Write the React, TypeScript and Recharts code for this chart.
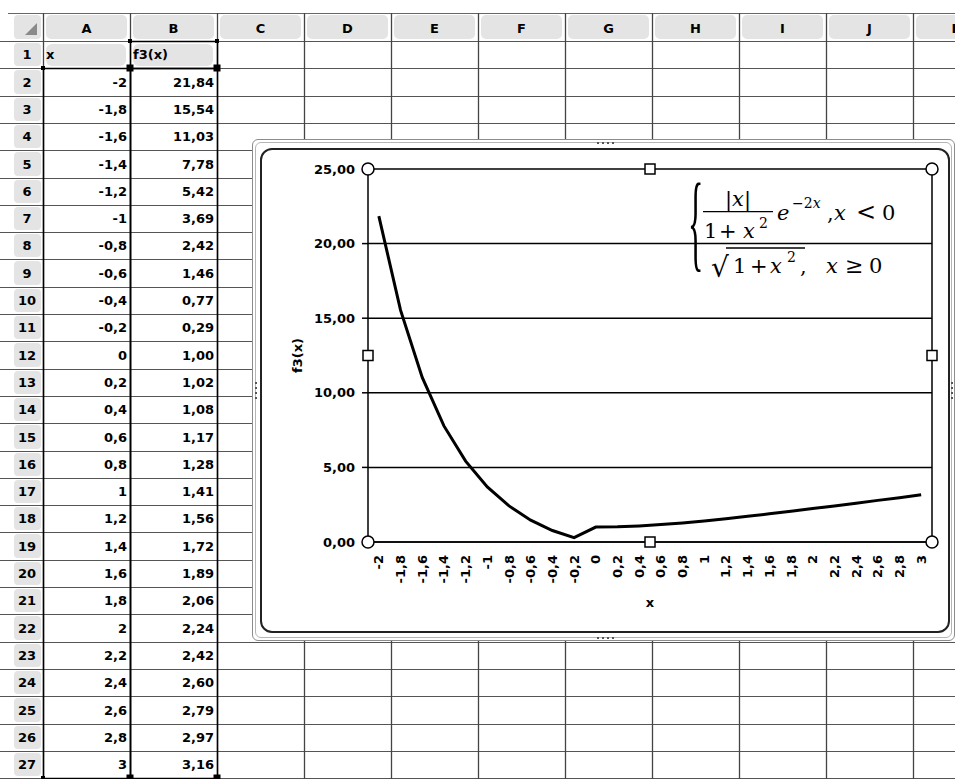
import React from 'react';
import { LineChart, Line, XAxis, YAxis, CartesianGrid, Label } from 'recharts';

// ---- data ----
const xValues = [-2, -1.8, -1.6, -1.4, -1.2, -1, -0.8, -0.6, -0.4, -0.2, 0, 0.2, 0.4, 0.6, 0.8, 1, 1.2, 1.4, 1.6, 1.8, 2, 2.2, 2.4, 2.6, 2.8, 3];
const f3Values = [21.84, 15.54, 11.03, 7.78, 5.42, 3.69, 2.42, 1.46, 0.77, 0.29, 1.0, 1.02, 1.08, 1.17, 1.28, 1.41, 1.56, 1.72, 1.89, 2.06, 2.24, 2.42, 2.6, 2.79, 2.97, 3.16];
const yTicks = [0, 5, 10, 15, 20, 25];
const columnLetters = ['A', 'B', 'C', 'D', 'E', 'F', 'G', 'H', 'I', 'J', 'K'];
const headerX = 'x';
const headerY = 'f3(x)';
const xAxisTitle = 'x';
const yAxisTitle = 'f3(x)';

const fmtX = (v: number) => String(v).replace('.', ',');
const fmtY = (v: number) => v.toFixed(2).replace('.', ',');

const chartData = xValues.map((x, i) => ({ xLabel: fmtX(x), f3: f3Values[i] }));

// ---- layout ----
const FONT = "'DejaVu Sans', sans-serif";
const COL0 = 43;
const COL_W = 87;
const HEAD_TOP = 13;
const HEAD_BOTTOM = 41;
const ROW_H = 27.3;
const NROWS = 27;
const rowTop = (r: number) => Math.round(HEAD_BOTTOM + (r - 1) * ROW_H);
const colLeft = (c: number) => COL0 + c * COL_W;

const CH_LEFT = 261;
const CH_TOP = 149;
const CH_W = 688;
const CH_H = 483;
const M = { top: 20, right: 17, bottom: 20, left: 47 };
const Y_AXIS_W = 60;
const X_AXIS_H = 70;
const PLOT_L = CH_LEFT + M.left + Y_AXIS_W;
const PLOT_T = CH_TOP + M.top;
const PLOT_R = CH_LEFT + CH_W - M.right;
const PLOT_B = CH_TOP + CH_H - M.bottom - X_AXIS_H;

const XTick = (props: any) => {
  const { x, y, payload } = props;
  return (
    <g transform={`translate(${x},${y})`}>
      <text transform="rotate(-90)" x={-5} y={0} textAnchor="end" dominantBaseline="central"
        fontFamily={FONT} fontWeight="bold" fontSize={13} fill="#000">{payload.value}</text>
    </g>
  );
};

const Sheet = () => {
  const rows = Array.from({ length: NROWS }, (_, i) => i + 1);
  const els: React.ReactNode[] = [];
  els.push(<rect key="corner" x={14} y={15} width={27} height={24} rx={4} fill="#e4e4e4" />);
  els.push(<polygon key="tri" points="37,23 37,35 25,35" fill="#8a8a8a" />);
  columnLetters.forEach((c, i) => {
    const l = colLeft(i);
    els.push(<rect key={'hp' + c} x={l + 3} y={15} width={COL_W - 6} height={24} rx={5} fill="#e4e4e4" />);
    els.push(<text key={'ht' + c} x={l + COL_W / 2} y={28} textAnchor="middle" dominantBaseline="central"
      fontFamily={FONT} fontWeight="bold" fontSize={13} fill="#000">{c}</text>);
  });
  rows.forEach((r) => {
    const t = rowTop(r);
    const b = rowTop(r + 1);
    els.push(<rect key={'rp' + r} x={14} y={t + 2} width={27} height={b - t - 4} rx={4} fill="#e4e4e4" />);
    els.push(<text key={'rt' + r} x={27} y={(t + b) / 2} textAnchor="middle" dominantBaseline="central"
      fontFamily={FONT} fontWeight="bold" fontSize={13} fill="#000">{r}</text>);
  });
  els.push(<rect key="a1p" x={colLeft(0) + 3} y={rowTop(1) + 3} width={COL_W - 7} height={rowTop(2) - rowTop(1) - 5} rx={6} fill="#e4e4e4" />);
  els.push(<rect key="b1p" x={colLeft(1) + 3} y={rowTop(1) + 3} width={COL_W - 7} height={rowTop(2) - rowTop(1) - 5} rx={6} fill="#e4e4e4" />);
  els.push(<text key="a1" x={colLeft(0) + 3} y={(rowTop(1) + rowTop(2)) / 2} dominantBaseline="central"
    fontFamily={FONT} fontWeight="bold" fontSize={13} fill="#000">{headerX}</text>);
  els.push(<text key="b1" x={colLeft(1) + 3} y={(rowTop(1) + rowTop(2)) / 2} dominantBaseline="central"
    fontFamily={FONT} fontWeight="bold" fontSize={13} fill="#000">{headerY}</text>);
  xValues.forEach((x, i) => {
    const r = i + 2;
    const cy = (rowTop(r) + rowTop(r + 1)) / 2;
    els.push(<text key={'av' + i} x={colLeft(1) - 3} y={cy} textAnchor="end" dominantBaseline="central"
      fontFamily={FONT} fontWeight="bold" fontSize={13} fill="#000">{fmtX(x)}</text>);
    els.push(<text key={'bv' + i} x={colLeft(2) - 3} y={cy} textAnchor="end" dominantBaseline="central"
      fontFamily={FONT} fontWeight="bold" fontSize={13} fill="#000">{fmtY(f3Values[i])}</text>);
  });
  els.push(<line key="htop" x1={8} x2={955} y1={HEAD_TOP + 0.5} y2={HEAD_TOP + 0.5} stroke="#666" strokeWidth={1} />);
  for (let r = 1; r <= NROWS + 1; r++) {
    const y = rowTop(r) + 0.5;
    els.push(<line key={'hl' + r} x1={0} x2={955} y1={y} y2={y} stroke="#555" strokeWidth={1} />);
  }
  for (let c = 0; c <= columnLetters.length; c++) {
    const x = colLeft(c) + 0.5;
    els.push(<line key={'vl' + c} x1={x} x2={x} y1={HEAD_TOP} y2={779} stroke="#444" strokeWidth={1.3} />);
  }
  const rb = rowTop(NROWS + 1);
  const r2 = rowTop(2);
  const r1 = rowTop(1);
  els.push(<rect key="rngA" x={colLeft(0) + 0.5} y={r2 + 0.5} width={COL_W} height={rb - r2} fill="none" stroke="#000" strokeWidth={1.5} />);
  els.push(<rect key="rngB" x={colLeft(1) + 0.5} y={r2 + 0.5} width={COL_W} height={rb - r2} fill="none" stroke="#000" strokeWidth={1.5} />);
  els.push(<rect key="rngB1" x={colLeft(1) + 0.5} y={r1 + 0.5} width={COL_W} height={r2 - r1} fill="none" stroke="#000" strokeWidth={1.5} />);
  const sq = (k: string, cx: number, cy: number, s: number) =>
    els.push(<rect key={k} x={cx - s / 2} y={cy - s / 2} width={s} height={s} fill="#000" />);
  sq('h1', colLeft(1), r1, 4); sq('h2', colLeft(2), r1, 4); sq('h3', colLeft(0), r2, 4);
  sq('h4', colLeft(1), r2, 7); sq('h5', colLeft(2), r2, 7);
  sq('h6', colLeft(0), rb, 4); sq('h7', colLeft(1), rb, 7); sq('h8', colLeft(2), rb, 7);
  return (
    <svg width={955} height={779} style={{ position: 'absolute', left: 0, top: 0 }}>
      <rect x={0} y={0} width={955} height={779} fill="#fff" />
      {els}
    </svg>
  );
};

const dots = (k: string, x: number, y: number, horiz: boolean) => (
  <g key={k}>
    {[0, 1, 2, 3].map((i) => (
      <rect key={i} x={horiz ? x + i * 5 : x} y={horiz ? y : y + i * 5} width={2} height={2} fill="#555" />
    ))}
  </g>
);

const Overlay = () => {
  const midX = (PLOT_L + PLOT_R) / 2;
  const midY = (PLOT_T + PLOT_B) / 2;
  const circ = (k: string, cx: number, cy: number) => <circle key={k} cx={cx} cy={cy} r={6} fill="#fff" stroke="#000" strokeWidth={1.5} />;
  const sqr = (k: string, cx: number, cy: number) => <rect key={k} x={cx - 5} y={cy - 5} width={10} height={10} fill="#fff" stroke="#000" strokeWidth={1.5} />;
  const serif = "'DejaVu Serif', serif";
  return (
    <svg width={955} height={779} style={{ position: 'absolute', left: 0, top: 0, pointerEvents: 'none' }}>
      <line x1={PLOT_R} x2={PLOT_R} y1={PLOT_T} y2={PLOT_B} stroke="#000" strokeWidth={1.5} />
      {circ('c1', PLOT_L, PLOT_T)}{circ('c2', PLOT_R, PLOT_T)}{circ('c3', PLOT_L, PLOT_B)}{circ('c4', PLOT_R, PLOT_B)}
      {sqr('s1', midX, PLOT_T)}{sqr('s2', midX, PLOT_B)}{sqr('s3', PLOT_L, midY)}{sqr('s4', PLOT_R, midY)}
      {dots('d1', 597, 142, true)}{dots('d2', 597, 637, true)}{dots('d3', 255, 382, false)}{dots('d4', 951, 382, false)}
      <g fill="#000" fontFamily={serif} fontSize={21}>
        <text transform="translate(688,257.5) scale(1,3.4)" fontFamily="'Liberation Serif', serif" fontSize={32}>{'{'}</text>
        <text x={738} y={206} textAnchor="middle">|<tspan fontStyle="italic">x</tspan>|</text>
        <line x1={703} x2={773} y1={211.7} y2={211.7} stroke="#000" strokeWidth={1.3} />
        <text x={704} y={238}>1</text>
        <text x={719} y={238}>+</text>
        <text x={743} y={238} fontStyle="italic">x</text>
        <text x={759} y={228} fontSize={14}>2</text>
        <text x={777} y={220} fontStyle="italic">e</text>
        <text x={792} y={208} fontSize={14}>−2<tspan fontStyle="italic">x</tspan></text>
        <text x={827} y={220}>,</text>
        <text x={834} y={220} fontStyle="italic">x</text>
        <text x={856} y={220} fontSize={24}>&lt;</text>
        <text x={882} y={220}>0</text>
        <text x={711} y={277} fontSize={28}>√</text>
        <line x1={726} x2={805} y1={248} y2={248} stroke="#000" strokeWidth={1.3} />
        <text x={733} y={273}>1</text>
        <text x={750} y={273}>+</text>
        <text x={770} y={273} fontStyle="italic">x</text>
        <text x={787} y={262} fontSize={14}>2</text>
        <text x={800} y={273}>,</text>
        <text x={826} y={273} fontStyle="italic">x</text>
        <text x={845} y={273} fontSize={22}>≥</text>
        <text x={869} y={273}>0</text>
      </g>
    </svg>
  );
};

export default function App() {
  return (
    <div style={{ position: 'absolute', left: 0, top: 0, width: 955, height: 779, background: '#fff', overflow: 'hidden' }}>
      <Sheet />
      <div style={{ position: 'absolute', left: 252, top: 139, width: 701, height: 500, background: '#fff', border: '1px solid #8c8c8c', borderRadius: 6 }} />
      <div style={{ position: 'absolute', left: 255, top: 142, width: 695, height: 494, border: '1px solid #b5b5b5', borderRadius: 6 }} />
      <div style={{ position: 'absolute', left: CH_LEFT - 1, top: CH_TOP - 1, width: CH_W - 2, height: CH_H - 2, border: '2px solid #222', borderRadius: 12, boxSizing: 'content-box' }} />
      <div style={{ position: 'absolute', left: CH_LEFT, top: CH_TOP }}>
        <LineChart width={CH_W} height={CH_H} data={chartData} margin={M}>
          <CartesianGrid vertical={false} stroke="#000" strokeWidth={1.5} />
          <XAxis dataKey="xLabel" scale="band" interval={0} tickLine={false} axisLine={{ stroke: '#000', strokeWidth: 1.5 }}
            height={X_AXIS_H} tick={<XTick />}>
            <Label content={(p: any) => {
              const vb = p.viewBox || {};
              return <text x={vb.x + vb.width / 2} y={vb.y + 60} textAnchor="middle" dominantBaseline="central"
                fontFamily={FONT} fontWeight="bold" fontSize={13} fill="#000">{xAxisTitle}</text>;
            }} />
          </XAxis>
          <YAxis domain={[0, 25]} ticks={yTicks} interval={0} width={Y_AXIS_W} tickSize={6} tickMargin={7}
            tickFormatter={(v: number) => fmtY(v)} axisLine={{ stroke: '#000', strokeWidth: 1.5 }}
            tickLine={{ stroke: '#000', strokeWidth: 1.5 }}
            tick={{ fill: '#000', fontFamily: FONT, fontWeight: 'bold', fontSize: 13 }}>
            <Label content={(p: any) => {
              const vb = p.viewBox || {};
              const cx = vb.x - 11;
              const cy = vb.y + vb.height / 2;
              return <text x={cx} y={cy} transform={`rotate(-90, ${cx}, ${cy})`} textAnchor="middle" dominantBaseline="central"
                fontFamily={FONT} fontWeight="bold" fontSize={13} fill="#000">{yAxisTitle}</text>;
            }} />
          </YAxis>
          <Line type="linear" dataKey="f3" stroke="#000" strokeWidth={3} dot={false} isAnimationActive={false} />
        </LineChart>
      </div>
      <Overlay />
    </div>
  );
}
